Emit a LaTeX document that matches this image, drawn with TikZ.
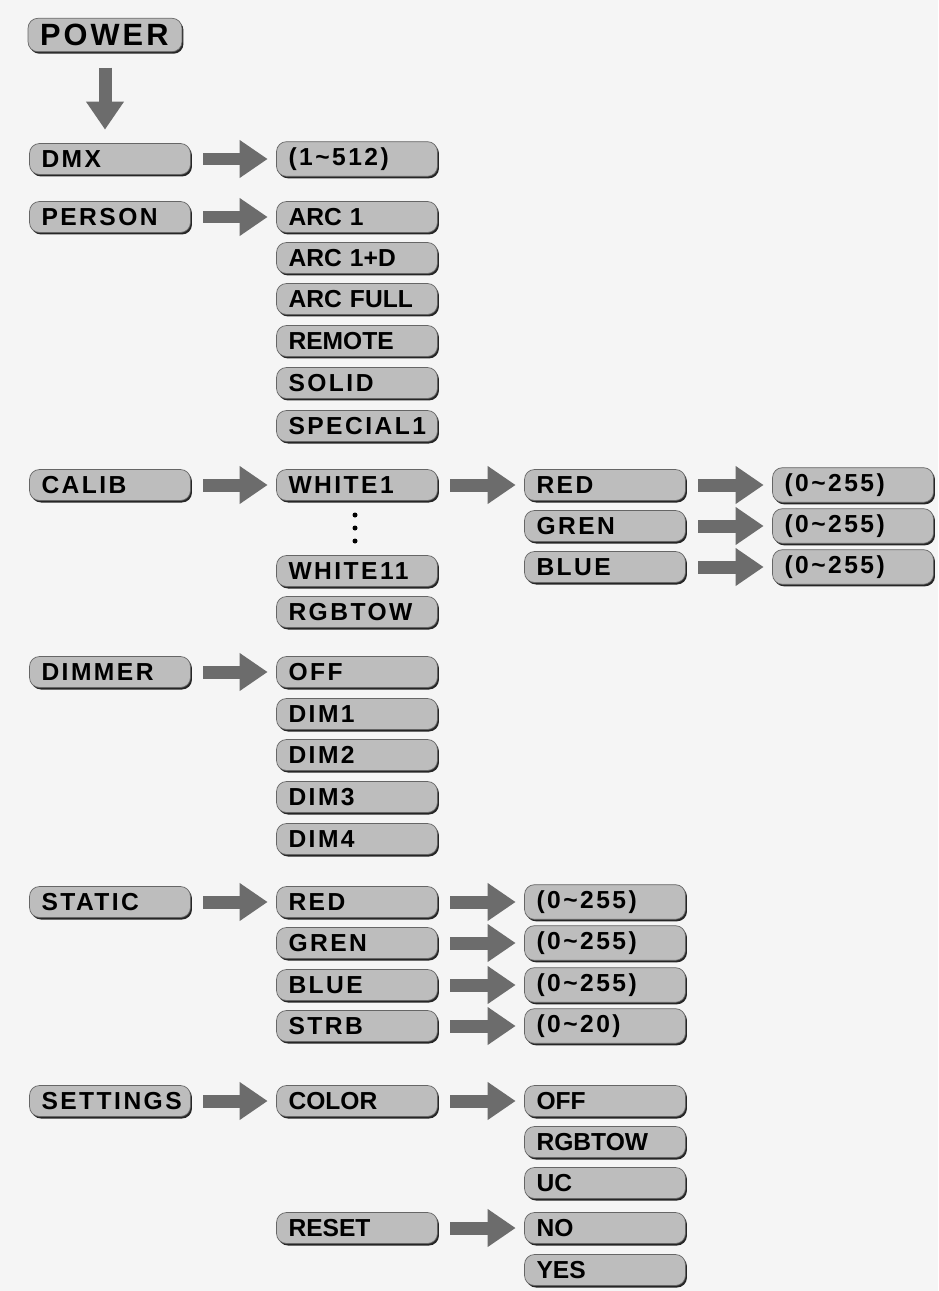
\documentclass[tikz,border=0pt]{standalone}
\usepackage{fontspec}
\usetikzlibrary{arrows.meta,shadows}
\newfontfamily\menuwide{Liberation Sans}[LetterSpace=10]
\newfontfamily\menuplain{Liberation Sans}
\newcommand{\pl}[1]{{\menuplain #1}}
\newcommand{\tl}{\textasciitilde}
\definecolor{bgcol}{HTML}{F5F5F5}
\definecolor{boxcol}{HTML}{BDBDBD}
\definecolor{arrcol}{HTML}{6C6C6C}
\tikzset{
    mb/.style={draw=black!60, line width=0.4pt, fill=boxcol, rounded corners=0.2cm,
        minimum width=3.22cm, minimum height=0.62cm, text width=2.74cm, inner xsep=0.24cm,
        align=left, font=\fontsize{14}{15}\selectfont\menuwide\bfseries,
        drop shadow={shadow xshift=0.03cm, shadow yshift=-0.04cm, fill=black!85, opacity=1}},
    ba/.style={draw=arrcol, line width=0.26cm, -{Triangle[length=0.56cm,width=0.72cm]},
        shorten <=0.25cm, shorten >=0.17cm}
}

\begin{document}
\begin{tikzpicture}[x=0.02cm, y=-0.02cm]

\fill[bgcol] (0,0) rectangle (938,1291);

% Level 1 (main menu, X=110)
\node[mb, minimum width=3.08cm, text width=2.6cm, font=\fontsize{17.5}{18}\selectfont\menuwide\bfseries] (L1N0) at (105, 35) {POWER};
\node[mb] (L1N1) at (110, 159) {DMX};
\node[mb] (L1N2) at (110, 217) {PERSON};
\node[mb] (L1N3) at (110, 485) {CALIB};
\node[mb] (L1N4) at (110, 672) {DIMMER};
\node[mb] (L1N5) at (110, 902) {STATIC};
\node[mb] (L1N6) at (110, 1101) {SETTINGS};

% Level 2 (X=357)
\node[mb] (L2N1) at (357, 159) {(1\tl512)};

\node[mb] (L2N2) at (357, 217) {\pl{ARC 1}};
\node[mb] (L2N3) at (357, 258) {\pl{ARC 1+D}};
\node[mb] (L2N4) at (357, 299) {\pl{ARC FULL}};
\node[mb] (L2N5) at (357, 341) {\pl{REMOTE}};
\node[mb] (L2N6) at (357, 383) {SOLID};
\node[mb] (L2N7) at (357, 426) {SPECIAL1};

\node[mb] (L2N8) at (357, 485) {WHITE1};
% dots between WHITE1 and WHITE11
\foreach \y in {515, 528, 541}
    \fill (355, \y) circle[radius=0.05cm];
\node[mb] (L2N9) at (357, 571) {WHITE11};
\node[mb] (L2N10) at (357, 612) {RGBTOW};

\node[mb] (L2N11) at (357, 672) {OFF};
\node[mb] (L2N12) at (357, 714) {DIM1};
\node[mb] (L2N13) at (357, 755) {DIM2};
\node[mb] (L2N14) at (357, 797) {DIM3};
\node[mb] (L2N15) at (357, 839) {DIM4};

\node[mb] (L2N16) at (357, 902) {RED};
\node[mb] (L2N17) at (357, 943) {GREN};
\node[mb] (L2N18) at (357, 985) {BLUE};
\node[mb] (L2N19) at (357, 1026) {STRB};

\node[mb] (L2N20) at (357, 1101) {\pl{COLOR}};
\node[mb] (L2N21) at (357, 1228) {\pl{RESET}};

% Level 3 (X=605)
\node[mb] (L3N1) at (605, 485) {RED};
\node[mb] (L3N2) at (605, 526) {GREN};
\node[mb] (L3N3) at (605, 567) {BLUE};

\node[mb] (L3N4) at (605, 902) {(0\tl255)};
\node[mb] (L3N5) at (605, 943) {(0\tl255)};
\node[mb] (L3N6) at (605, 985) {(0\tl255)};
\node[mb] (L3N7) at (605, 1026) {(0\tl20)};

\node[mb] (L3N8) at (605, 1101) {\pl{OFF}};
\node[mb] (L3N9) at (605, 1142) {\pl{RGBTOW}};
\node[mb] (L3N10) at (605, 1183) {\pl{UC}};
\node[mb] (L3N11) at (605, 1228) {\pl{NO}};
\node[mb] (L3N12) at (605, 1270) {\pl{YES}};

% Level 4 (X=853)
\node[mb] (L4N1) at (853, 485) {(0\tl255)};
\node[mb] (L4N2) at (853, 526) {(0\tl255)};
\node[mb] (L4N3) at (853, 567) {(0\tl255)};

% Level 1 -> 1
\draw[ba, shorten <=0.31cm, shorten >=0.27cm] (L1N0.south) -- (L1N0.south |- L1N1.north);

% Level 1 -> 2
\draw[ba] (L1N1) -- (L2N1);
\draw[ba] (L1N2) -- (L2N2);
\draw[ba] (L1N3) -- (L2N8);
\draw[ba] (L1N4) -- (L2N11);
\draw[ba] (L1N5) -- (L2N16);
\draw[ba] (L1N6) -- (L2N20);

% Level 2 -> 3
\draw[ba] (L2N8) -- (L3N1);
\draw[ba] (L2N16) -- (L3N4);
\draw[ba] (L2N17) -- (L3N5);
\draw[ba] (L2N18) -- (L3N6);
\draw[ba] (L2N19) -- (L3N7);
\draw[ba] (L2N20) -- (L3N8);
\draw[ba] (L2N21) -- (L3N11);

% Level 3 -> 4
\draw[ba] (L3N1) -- (L4N1);
\draw[ba] (L3N2) -- (L4N2);
\draw[ba] (L3N3) -- (L4N3);

\end{tikzpicture}
\end{document}
